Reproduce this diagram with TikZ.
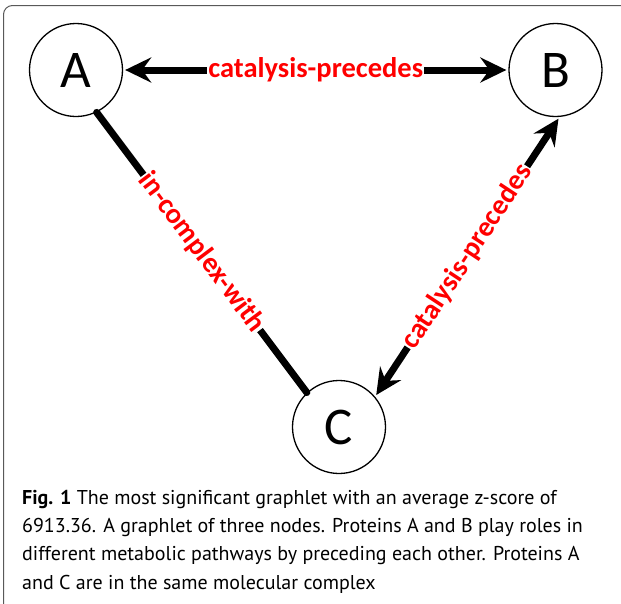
\documentclass[tikz,border=0pt]{standalone}
\usepackage{fontspec}
\usetikzlibrary{arrows.meta}
\newfontfamily\graphfont{Carlito}
\newfontfamily\capfont{PT Sans}

\begin{document}
\begin{tikzpicture}[x=1pt,y=-1pt,
  protein/.style={draw,circle,line width=1.3pt,minimum size=93pt,inner sep=0pt,
    font=\graphfont\fontsize{53}{53}\selectfont},
  link/.style={line width=7pt},
  tips/.style={{Stealth[length=26pt,width=25pt,inset=9pt]}-{Stealth[length=26pt,width=25pt,inset=9pt]}},
  rel/.style={midway,sloped,fill=white,inner sep=1pt,text=red,
    font=\graphfont\bfseries\fontsize{28.5}{28.5}\selectfont}]
\useasboundingbox (0,0) rectangle (621,603);
\begin{scope}
\clip (0,0) rectangle (621,603);
\draw[line width=1pt,draw=black!65,rounded corners=9pt] (3.5,5.5) rectangle (650,640);
\end{scope}

\node[protein] (A) at (76,70) {A};
\node[protein] (B) at (555.5,70) {B};
\node[protein] (C) at (339,427) {C};

\draw[link,tips,shorten <=2pt,shorten >=2pt] (A.east) -- node[rel] {catalysis-precedes} (B.west);
\draw[link,line cap=round] (A.296) -- node[rel] {in-complex-with} (C.133);
\draw[link,tips,shorten <=2pt,shorten >=2pt] (C.40) -- node[rel] {catalysis-precedes} (B.275);

\node[anchor=base west,inner sep=0pt,align=left,
  font=\capfont\fontsize{20}{28.3}\selectfont] (caption) at (22,589)
  {{\bfseries Fig. 1} The most significant graphlet with an average z-score of\\
   6913.36. A graphlet of three nodes. Proteins A and B play roles in\\
   different metabolic pathways by preceding each other. Proteins A\\
   and C are in the same molecular complex};
\end{tikzpicture}
\end{document}
